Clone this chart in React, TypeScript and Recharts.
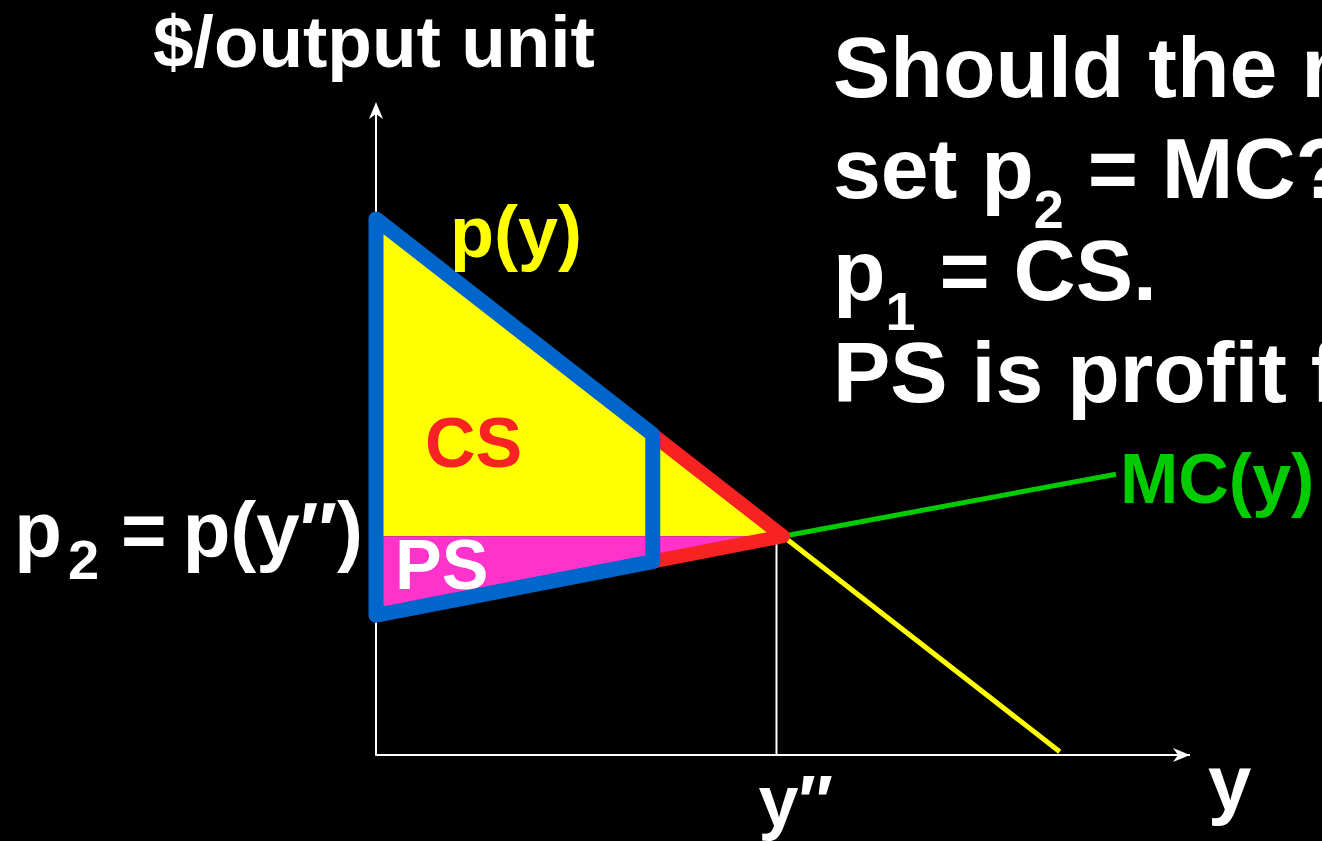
import React from "react";
import { ComposedChart, Scatter, XAxis, YAxis } from "recharts";

// ---- data (economic units: quantity y on x axis, $/unit on vertical axis) ----
const demandQ = [0, 5, 8.4];
const demandP = [8.21, 3.35, 0.05];
const mcQ = [0, 5, 9.09];
const mcP = [2.14, 3.35, 4.3];
const csQ = [0, 5, 0];
const csP = [8.21, 3.35, 3.35];
const psQ = [0, 5, 0];
const psP = [3.35, 3.35, 2.14];
const surplusQ = [0, 5, 0];
const surplusP = [8.21, 3.35, 2.14];
const tariffQ = [0, 3.4, 3.4, 0];
const tariffP = [8.21, 4.91, 2.96, 2.14];
const yStarQ = [4.92, 4.92];
const yStarP = [3.33, 0];
const axisQ = [0, 0, 10];
const axisP = [9.9, 0, 0];
const xArrowQ = [10];
const xArrowP = [0];
const yArrowQ = [0];
const yArrowP = [10];
const xTickQ = [4.92];
const xTickP = [0];
const yTickQ = [0];
const yTickP = [3.35];

const zip = (q: number[], p: number[]) => q.map((v, i) => ({ q: v, p: p[i] }));

const FONT = "'Liberation Sans', Arial, Helvetica, sans-serif";
const W = 1322;
const H = 841;

const none = () => <g />;

const polyLine =
  (stroke: string, sw: number) =>
  (props: any) =>
    (
      <polyline
        points={(props.points || []).map((pt: any) => `${pt.x},${pt.y}`).join(" ")}
        fill="none"
        stroke={stroke}
        strokeWidth={sw}
        strokeLinejoin="round"
      />
    );

const polygon =
  (fill: string, stroke: string, sw: number) =>
  (props: any) =>
    (
      <polygon
        points={(props.points || []).map((pt: any) => `${pt.x},${pt.y}`).join(" ")}
        fill={fill}
        stroke={stroke}
        strokeWidth={sw}
        strokeLinejoin="round"
      />
    );

const xArrow = (props: any) => {
  const { cx, cy } = props;
  return <path d={`M${cx},${cy} L${cx - 17},${cy - 7} L${cx - 12},${cy} L${cx - 17},${cy + 7} Z`} fill="#fff" />;
};
const yArrow = (props: any) => {
  const { cx, cy } = props;
  return <path d={`M${cx},${cy} L${cx - 7},${cy + 17} L${cx},${cy + 12} L${cx + 7},${cy + 17} Z`} fill="#fff" />;
};

const XTick = (props: any) => {
  const { cx, cy } = props;
  return (
    <text x={cx - 18} y={cy + 71} fill="#fff" fontFamily={FONT} fontWeight="bold" fontSize={72}>
      y{"\u2033"}
    </text>
  );
};

const YTick = (props: any) => {
  const { cx, cy } = props;
  return (
    <text x={cx - 13} y={cy + 21} fill="#fff" fontFamily={FONT} fontWeight="bold" fontSize={78} textAnchor="end">
      <tspan>p</tspan>
      <tspan fontSize={56} dx={6} dy={22}>2</tspan>
      <tspan dx={22} dy={-22}>=</tspan>
      <tspan dx={16}>p(y{"\u2033"})</tspan>
    </text>
  );
};

export default function App() {
  return (
    <div style={{ position: "fixed", left: 0, top: 0, width: W, height: H, background: "#000", overflow: "hidden" }}>
      <ComposedChart
        width={W}
        height={H}
        margin={{ left: 376, top: 102, right: W - 1190, bottom: H - 755 }}
        style={{ position: "absolute", left: 0, top: 0 }}
      >
        <XAxis type="number" dataKey="q" domain={[0, 10]} hide />
        <YAxis type="number" dataKey="p" domain={[0, 10]} hide />
        <Scatter data={zip(axisQ, axisP)} shape={none} line={polyLine("#ffffff", 2)} isAnimationActive={false} />
        <Scatter data={zip(demandQ, demandP)} shape={none} line={polyLine("#ffff00", 5)} isAnimationActive={false} />
        <Scatter data={zip(mcQ, mcP)} shape={none} line={polyLine("#00cc00", 5)} isAnimationActive={false} />
        <Scatter data={zip(yStarQ, yStarP)} shape={none} line={polyLine("#ffffff", 2)} isAnimationActive={false} />
        <Scatter data={zip(csQ, csP)} shape={none} line={polygon("#ffff00", "none", 0)} isAnimationActive={false} />
        <Scatter data={zip(psQ, psP)} shape={none} line={polygon("#ff33cc", "none", 0)} isAnimationActive={false} />
        <Scatter data={zip(surplusQ, surplusP)} shape={none} line={polygon("none", "#f72222", 14)} isAnimationActive={false} />
        <Scatter data={zip(tariffQ, tariffP)} shape={none} line={polygon("none", "#0066cc", 15)} isAnimationActive={false} />
        <Scatter data={zip(xArrowQ, xArrowP)} shape={xArrow} isAnimationActive={false} />
        <Scatter data={zip(yArrowQ, yArrowP)} shape={yArrow} isAnimationActive={false} />
        <Scatter data={zip(xTickQ, xTickP)} shape={XTick} isAnimationActive={false} />
        <Scatter data={zip(yTickQ, yTickP)} shape={YTick} isAnimationActive={false} />
      </ComposedChart>
      <svg
        width={W}
        height={H}
        style={{ position: "absolute", left: 0, top: 0, pointerEvents: "none", overflow: "hidden" }}
        fontFamily={FONT}
        fontWeight="bold"
      >
        <text x={153} y={67} fontSize={73} fill="#fff">$/output unit</text>
        <text x={450} y={257} fontSize={72} fill="#ffff00">p(y)</text>
        <text x={425} y={467} fontSize={70} fill="#f72222">CS</text>
        <text x={395} y={589} fontSize={70} fill="#fff">PS</text>
        <text x={1120} y={503} fontSize={70} fill="#00cc00">MC(y)</text>
        <text x={1208} y={810} fontSize={78} fill="#fff">y</text>
        <g fontSize={86} fill="#fff">
          <text x={833} y={97}>Should the monopolist</text>
          <text x={833} y={198}>
            <tspan>set p</tspan>
            <tspan fontSize={54} dy={30}>2</tspan>
            <tspan dy={-30}> = MC?</tspan>
          </text>
          <text x={833} y={300}>
            <tspan>p</tspan>
            <tspan fontSize={54} dy={30}>1</tspan>
            <tspan dy={-30}> = CS.</tspan>
          </text>
          <text x={833} y={402}>
            <tspan>PS is profit from p</tspan>
            <tspan fontSize={54} dy={30}>2</tspan>
            <tspan dy={-30}>.</tspan>
          </text>
        </g>
      </svg>
    </div>
  );
}
